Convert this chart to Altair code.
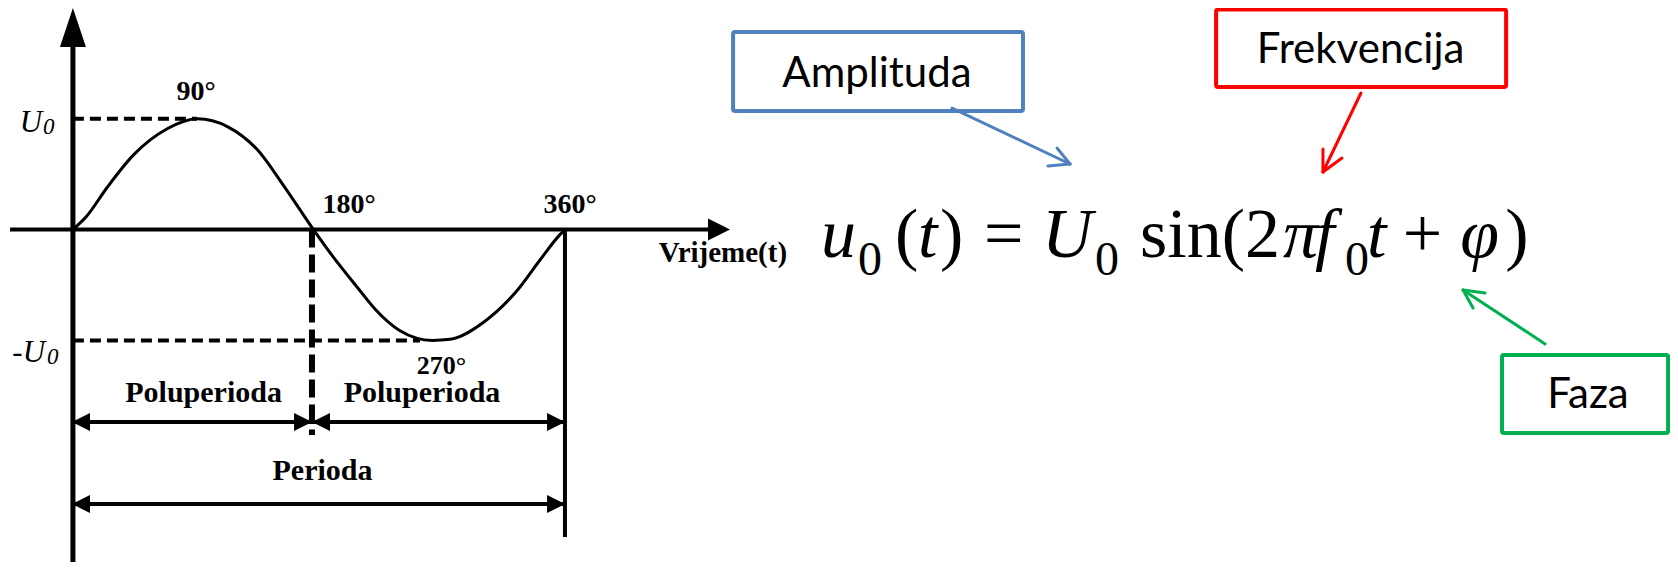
import altair as alt
import pandas as pd

# ---- sine wave (phase in degrees, value in units of U0)
wave_deg = [0, 10, 25, 44, 69, 91, 113, 135, 154, 176, 190, 208, 222, 239, 263, 276, 300, 325, 342, 356, 360]
wave_val = [0, 0.12, 0.38, 0.67, 0.91, 1.0, 0.93, 0.72, 0.40, 0, -0.24, -0.52, -0.73, -0.91, -1.0, -0.99, -0.84, -0.55, -0.27, -0.05, 0]

# ---- diagram lines (x, y, x2, y2, width)
line_x = [0, -46.0, 360, 0, 0]
line_y = [-3.0, 0, 0, -1.736, -2.477]
line_x2 = [0, 467.6, 360, 360, 360]
line_y2 = [1.666, 0, -2.774, -1.736, -2.477]
line_w = [5, 4, 4, 4, 4]

# dashed level lines U0 / -U0
lvl_x = [0, 0]
lvl_x2 = [90.8, 254]
lvl_y = [1.0, -1.0]

# dashed half-period line
half_x = [174.9]
half_y = [0]
half_y2 = [-1.854]

# dimension arrow heads (centre x, centre y, angle, size)
head_x = [472.7, 5.9, 168.4, 181.5, 353.5, 5.9, 353.5]
head_y = [0, -1.736, -1.736, -1.736, -1.736, -2.477, -2.477]
head_a = [0, 180, 0, 180, 0, 180, 0]
head_s = [484, 324, 324, 324, 324, 324, 324]

# labels of the wave diagram
lab_text = ["90°", "180°", "360°", "270°", "Vrijeme(t)", "Poluperioda", "Poluperioda", "Perioda"]
lab_x = [90.1, 202.0, 363.7, 269.7, 475.6, 95.6, 255.4, 182.6]
lab_y = [1.17, 0.15, 0.15, -1.30, -0.292, -1.556, -1.556, -2.26]
lab_size = [28, 28, 28, 26, 29, 30, 30, 30]

ulab_text = ["U", "-U"]
ulab_x = [-22.6, -20.4]
ulab_y = [0.881, -1.195]
usub_x = [-21.9, -18.9]

# ---- formula pieces
eq_up_text = ["(", ")", "=", "sin(2", "+", ")"]
eq_up_x = [601.5, 634.4, 666.6, 780.7, 973.0, 1048.0]
eq_it_text = ["u", "t", "U", "π", "f", "t", "φ"]
eq_it_x = [547.3, 618.3, 709.0, 885.4, 908.8, 946.8, 1015.1]
eq_sub_x = [574.4, 747.8, 930.7]
eq_base = -0.247
eq_sub_base = -0.41

# ---- callout boxes
box_text = ["Amplituda", "Frekvencija", "Faza"]
box_color = ["#4F81BD", "#FF0000", "#00B050"]
box_x = [483.0, 836.4, 1045.6]
box_x2 = [695.1, 1048.6, 1167.1]
box_y = [1.783, 1.986, -1.132]
box_y2 = [1.070, 1.287, -1.836]
box_tx = [588.3, 942.1, 1108.5]
box_ty = [1.287, 1.504, -1.61]

# callout arrows: shaft and two barbs each
arr_color = ["#4F81BD"] * 3 + ["#FF0000"] * 3 + ["#00B050"] * 3
arr_x = [643.2, 729.5, 729.5, 942.4, 914.6, 914.6, 1077.1, 1017.1, 1017.1]
arr_y = [1.097, 0.592, 0.592, 1.233, 0.520, 0.520, -1.032, -0.545, -0.545]
arr_x2 = [729.5, 720.0, 713.4, 914.6, 914.6, 928.5, 1017.1, 1033.2, 1024.4]
arr_y2 = [0.592, 0.736, 0.574, 0.520, 0.727, 0.646, -0.545, -0.572, -0.708]

xs = alt.Scale(domain=[-47.5, 1168.5], nice=False, zero=False)
ys = alt.Scale(domain=[-3.0, 2.0], nice=False, zero=False)
X = lambda f="x": alt.X(f"{f}:Q", scale=xs, axis=None)
Y = lambda f="y": alt.Y(f"{f}:Q", scale=ys, axis=None)

serif = "Liberation Serif"
sans = "Lato"

lines = alt.Chart(pd.DataFrame({"x": line_x, "y": line_y, "x2": line_x2, "y2": line_y2, "w": line_w})).mark_rule(
    color="black").encode(x=X(), y=Y(), x2="x2:Q", y2="y2:Q", strokeWidth=alt.StrokeWidth("w:Q", scale=None))

levels = alt.Chart(pd.DataFrame({"x": lvl_x, "x2": lvl_x2, "y": lvl_y})).mark_rule(
    color="black", strokeWidth=4, strokeDash=[11, 6]).encode(x=X(), x2="x2:Q", y=Y())

half = alt.Chart(pd.DataFrame({"x": half_x, "y": half_y, "y2": half_y2})).mark_rule(
    color="black", strokeWidth=6, strokeDash=[18, 7]).encode(x=X(), y=Y(), y2="y2:Q")

wave = alt.Chart(pd.DataFrame({"x": wave_deg, "y": wave_val})).mark_line(
    color="black", strokeWidth=3, interpolate="monotone").encode(x=X(), y=Y())

heads = alt.Chart(pd.DataFrame({"x": head_x, "y": head_y, "a": head_a, "s": head_s})).mark_point(
    shape="M1,0L-1,-1L-1,1Z", filled=True, color="black", opacity=1, strokeWidth=0).encode(
    x=X(), y=Y(), angle=alt.Angle("a:Q", scale=None), size=alt.Size("s:Q", scale=None))

yhead = alt.Chart(pd.DataFrame({"x": [0], "y": [1.824]})).mark_point(
    shape="M0,-1L0.667,1L-0.667,1Z", filled=True, color="black", opacity=1, size=1521, strokeWidth=0).encode(
    x=X(), y=Y())

labels = alt.Chart(pd.DataFrame({"x": lab_x, "y": lab_y, "t": lab_text, "s": lab_size})).mark_text(
    font=serif, fontWeight="bold", align="center", baseline="alphabetic", color="black").encode(
    x=X(), y=Y(), text="t:N", size=alt.Size("s:Q", scale=None))

ulab = alt.Chart(pd.DataFrame({"x": ulab_x, "y": ulab_y, "t": ulab_text})).mark_text(
    font=serif, fontStyle="italic", fontSize=31, align="right", baseline="alphabetic", color="black").encode(
    x=X(), y=Y(), text="t:N")
usub = alt.Chart(pd.DataFrame({"x": usub_x, "y": ulab_y, "t": ["0", "0"]})).mark_text(
    font=serif, fontStyle="italic", fontSize=23, align="left", baseline="alphabetic", color="black", dy=2).encode(
    x=X(), y=Y(), text="t:N")

eq_up = alt.Chart(pd.DataFrame({"x": eq_up_x, "y": [eq_base] * len(eq_up_x), "t": eq_up_text})).mark_text(
    font=serif, fontSize=70, align="left", baseline="alphabetic", color="black").encode(x=X(), y=Y(), text="t:N")
eq_it = alt.Chart(pd.DataFrame({"x": eq_it_x, "y": [eq_base] * len(eq_it_x), "t": eq_it_text})).mark_text(
    font=serif, fontSize=70, fontStyle="italic", align="left", baseline="alphabetic", color="black").encode(
    x=X(), y=Y(), text="t:N")
eq_sub = alt.Chart(pd.DataFrame({"x": eq_sub_x, "y": [eq_sub_base] * len(eq_sub_x), "t": ["0"] * 3})).mark_text(
    font=serif, fontSize=48, align="left", baseline="alphabetic", color="black").encode(x=X(), y=Y(), text="t:N")

boxes = alt.Chart(pd.DataFrame({"x": box_x, "x2": box_x2, "y": box_y, "y2": box_y2, "c": box_color})).mark_rect(
    fill="white", strokeWidth=4, cornerRadius=2).encode(
    x=X(), x2="x2:Q", y=Y(), y2="y2:Q", stroke=alt.Stroke("c:N", scale=None))

box_labels = alt.Chart(pd.DataFrame({"x": box_tx, "y": box_ty, "t": box_text})).mark_text(
    font=sans, fontSize=42, align="center", baseline="alphabetic", color="black").encode(x=X(), y=Y(), text="t:N")

arrows = alt.Chart(pd.DataFrame({"x": arr_x, "y": arr_y, "x2": arr_x2, "y2": arr_y2, "c": arr_color})).mark_rule(
    strokeWidth=3, strokeCap="round").encode(
    x=X(), y=Y(), x2="x2:Q", y2="y2:Q", color=alt.Color("c:N", scale=None))

chart = alt.layer(
    levels, half, lines, wave, heads, yhead, labels, ulab, usub,
    eq_up, eq_it, eq_sub, boxes, box_labels, arrows
).properties(
    width=1662, height=554, padding=0, autosize=alt.AutoSizeParams(type="none")
).configure_view(stroke=None)

chart.save("out.html", embed_options={"renderer": "svg", "actions": False})
